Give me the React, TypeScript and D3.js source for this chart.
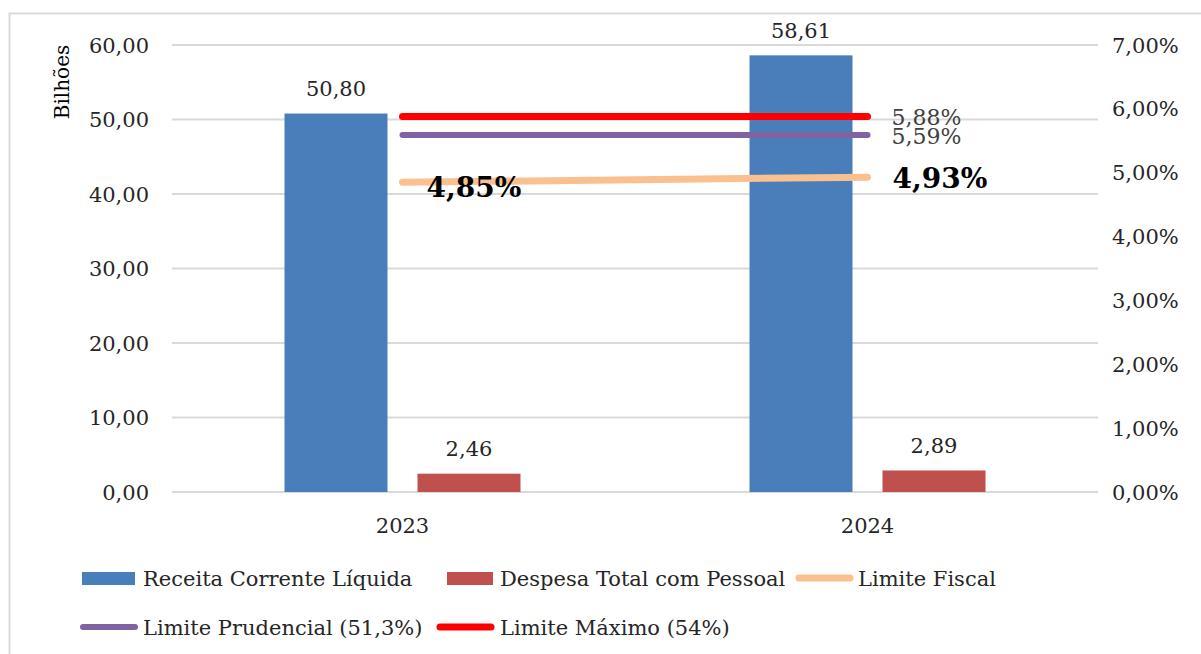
import React from "react";
import * as d3 from "d3";

const categories = ["2023", "2024"];
const receita = [50.8, 58.61];
const despesa = [2.46, 2.89];
const limiteFiscal = [4.85, 4.93];
const limitePrudencial = [5.59, 5.59];
const limiteMaximo = [5.88, 5.88];
const leftTicks = [0, 10, 20, 30, 40, 50, 60];
const rightTicks = [0, 1, 2, 3, 4, 5, 6, 7];

const W = 1201, H = 654;
const plotLeft = 172, plotRight = 1098, plotTop = 45, plotBottom = 492;
const FONT = "DejaVu Serif";

const fmt = (v: number, d = 2) => v.toFixed(d).replace(".", ",");

export default function App() {
  const x = d3.scaleBand<string>().domain(categories).range([170, 1100]);
  const yL = d3.scaleLinear().domain([0, 60]).range([plotBottom, plotTop]);
  const yR = d3.scaleLinear().domain([0, 7]).range([plotBottom, plotTop]);
  const barW = 103, gap = 30;
  const cx = (c: string) => (x(c) as number) + x.bandwidth() / 2;
  const line = (vals: number[]) =>
    d3.line<number>().x((_, i) => cx(categories[i])).y((v) => yR(v))(vals) as string;

  const legendRow1 = 578, legendRow2 = 627;
  const tc = "#262626";

  return (
    <svg width={W} height={H} style={{ position: "absolute", left: 0, top: 0, background: "#fff" }} fontFamily={FONT}>
      <rect x={0} y={0} width={W} height={H} fill="#fff" />
      <path d={`M9.5,${H} V13.5 H${W}`} fill="none" stroke="#d9d9d9" strokeWidth={2} />
      {leftTicks.map((t) => (
        <g key={t}>
          <line x1={plotLeft} x2={plotRight} y1={yL(t)} y2={yL(t)} stroke="#d9d9d9" strokeWidth={2} />
          <text x={149} y={yL(t)} dy="0.36em" textAnchor="end" fontSize={21} fill={tc}>{fmt(t)}</text>
        </g>
      ))}
      {rightTicks.map((t) => (
        <text key={t} x={1112} y={yR(t)} dy="0.36em" textAnchor="start" fontSize={21} fill={tc}>{fmt(t)}%</text>
      ))}
      <text transform="translate(62,82) rotate(-90)" dy="0.36em" textAnchor="middle" fontSize={20} fill="#000">Bilhões</text>
      {categories.map((c, i) => {
        const c0 = cx(c);
        const bx1 = c0 - gap / 2 - barW;
        const bx2 = c0 + gap / 2;
        return (
          <g key={c}>
            <rect x={bx1} y={yL(receita[i])} width={barW} height={plotBottom - yL(receita[i])} fill="#4a7ebb" />
            <rect x={bx2} y={yL(despesa[i])} width={barW} height={plotBottom - yL(despesa[i])} fill="#c0504d" />
            <text x={bx1 + barW / 2} y={yL(receita[i]) - 25} dy="0.36em" textAnchor="middle" fontSize={21} fill={tc}>{fmt(receita[i])}</text>
            <text x={bx2 + barW / 2} y={yL(despesa[i]) - 25} dy="0.36em" textAnchor="middle" fontSize={21} fill={tc}>{fmt(despesa[i])}</text>
            <text x={c0} y={plotBottom + 33} dy="0.36em" textAnchor="middle" fontSize={21} fill={tc}>{c}</text>
          </g>
        );
      })}
      <path d={line(limiteFiscal)} stroke="#fac090" strokeWidth={7} strokeLinecap="round" fill="none" />
      <path d={line(limitePrudencial)} stroke="#8064a2" strokeWidth={6} strokeLinecap="round" fill="none" />
      <path d={line(limiteMaximo)} stroke="#ff0000" strokeWidth={7} strokeLinecap="round" fill="none" />
      <text x={cx(categories[1]) + 24} y={yR(limiteMaximo[1]) + 0.5} dy="0.36em" fontSize={22} fill="#404040">{fmt(limiteMaximo[1])}%</text>
      <text x={cx(categories[1]) + 24} y={yR(limitePrudencial[1]) + 1.5} dy="0.36em" fontSize={22} fill="#404040">{fmt(limitePrudencial[1])}%</text>
      <text x={cx(categories[0]) + 24} y={yR(limiteFiscal[0]) + 5} dy="0.36em" fontSize={28} fontWeight="bold" fill="#000">{fmt(limiteFiscal[0])}%</text>
      <text x={cx(categories[1]) + 25} y={yR(limiteFiscal[1]) + 1} dy="0.36em" fontSize={28} fontWeight="bold" fill="#000">{fmt(limiteFiscal[1])}%</text>

      <g fontSize={21} fill={tc}>
        <rect x={82} y={legendRow1 - 6} width={53} height={13} fill="#4a7ebb" />
        <text x={143} y={legendRow1} dy="0.36em">Receita Corrente Líquida</text>
        <rect x={447} y={legendRow1 - 6} width={46} height={13} fill="#c0504d" />
        <text x={500} y={legendRow1} dy="0.36em">Despesa Total com Pessoal</text>
        <line x1={799} x2={850} y1={legendRow1} y2={legendRow1} stroke="#fac090" strokeWidth={7} strokeLinecap="round" />
        <text x={858} y={legendRow1} dy="0.36em">Limite Fiscal</text>
        <line x1={83} x2={135} y1={legendRow2} y2={legendRow2} stroke="#8064a2" strokeWidth={6} strokeLinecap="round" />
        <text x={143} y={legendRow2} dy="0.36em">Limite Prudencial (51,3%)</text>
        <line x1={440} x2={491} y1={legendRow2} y2={legendRow2} stroke="#ff0000" strokeWidth={7} strokeLinecap="round" />
        <text x={500} y={legendRow2} dy="0.36em">Limite Máximo (54%)</text>
      </g>
    </svg>
  );
}
